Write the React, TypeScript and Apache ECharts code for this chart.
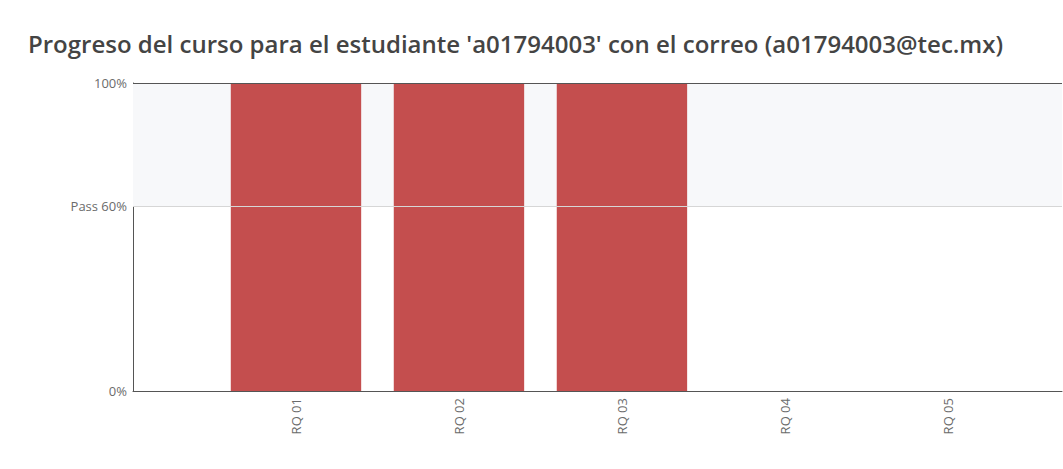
import React, { useEffect, useRef } from "react";
import * as echarts from "echarts";

const titleText = "Progreso del curso para el estudiante 'a01794003' con el correo (a01794003@tec.mx)";
const categories = ["RQ 01", "RQ 02", "RQ 03", "RQ 04", "RQ 05"];
const progress = [100, 100, 100, 0, 0];
const yTickLabels: Record<number, string> = { 0: "0%", 60: "Pass 60%", 100: "100%" };
const passLevel = 60;
const topLevel = 100;

export default function App() {
  const ref = useRef<HTMLDivElement>(null);
  useEffect(() => {
    if (!ref.current) return;
    const chart = echarts.init(ref.current, null, { renderer: "svg" });
    const font = "'Open Sans', 'Noto Sans', sans-serif";
    chart.setOption({
      animation: false,
      backgroundColor: "#ffffff",
      title: {
        text: titleText,
        left: 28,
        top: 31,
        padding: 0,
        textStyle: { fontFamily: font, fontSize: 24, fontWeight: 600, color: "#444444" },
      },
      grid: { left: 133, right: 1, top: 83, bottom: 78, containLabel: false },
      xAxis: {
        type: "value",
        min: -1,
        max: 4.7,
        interval: 1,
        axisLine: { show: true, lineStyle: { color: "#555555", width: 1 } },
        axisTick: { show: false },
        splitLine: { show: false },
        axisLabel: {
          rotate: 90,
          margin: 7,
          fontFamily: font,
          fontSize: 13,
          color: "#6b6b6b",
          showMaxLabel: false,
          formatter: (v: number) => (Number.isInteger(v) && v >= 0 && v < categories.length ? categories[v] : ""),
        },
      },
      yAxis: {
        type: "value",
        min: 0,
        max: 100,
        interval: 20,
        axisLine: { show: true, onZero: false, lineStyle: { color: "#555555", width: 1 } },
        axisTick: { show: false },
        splitLine: { show: false },
        axisLabel: {
          margin: 6,
          fontFamily: font,
          fontSize: 13,
          color: "#6b6b6b",
          formatter: (v: number) => yTickLabels[v] ?? "",
        },
      },
      series: [
        {
          type: "bar",
          barWidth: "80%",
          data: progress.map((v, i) => [i, v]),
          itemStyle: { color: "#c44e4e" },
          z: 3,
          markArea: {
            silent: true,
            itemStyle: { color: "#f7f8fa" },
            data: [[{ yAxis: passLevel }, { yAxis: topLevel }]],
          },
          markLine: {
            silent: true,
            symbol: "none",
            label: { show: false },
            lineStyle: { color: "#d6d6d6", width: 1, type: "solid" },
            data: [
              { yAxis: passLevel },
              { yAxis: topLevel, lineStyle: { color: "#555555", width: 1, type: "solid" } },
            ],
          },
        },
      ],
    });
    return () => chart.dispose();
  }, []);
  return (
    <div
      ref={ref}
      style={{ position: "fixed", left: 0, top: 0, width: 1063, height: 469 }}
    />
  );
}
